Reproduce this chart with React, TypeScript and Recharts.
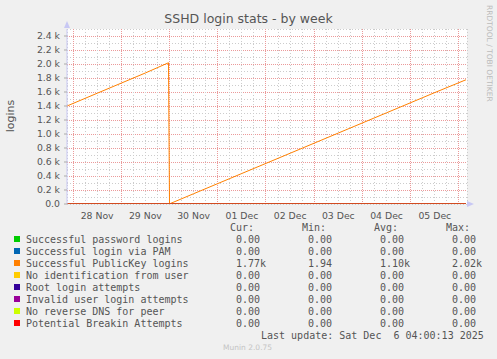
import React from "react"
import { LineChart, Line, XAxis, YAxis, CartesianGrid } from "recharts"

// hours relative to 28 Nov 00:00
const dayLabels = ["28 Nov", "29 Nov", "30 Nov", "01 Dec", "02 Dec", "03 Dec", "04 Dec", "05 Dec"]
const dayLabelHours = [12, 36, 60, 84, 108, 132, 156, 180]
const yTicks = [0, 200, 400, 600, 800, 1000, 1200, 1400, 1600, 1800, 2000, 2200, 2400]

const pubkeyData = [
  { t: -3, v: 1400 },
  { t: 12, v: 1582 },
  { t: 24, v: 1727 },
  { t: 36, v: 1872 },
  { t: 47.5, v: 2018 },
  { t: 48, v: 2 },
  { t: 60, v: 147 },
  { t: 84, v: 436 },
  { t: 108, v: 725 },
  { t: 132, v: 1014 },
  { t: 156, v: 1303 },
  { t: 180, v: 1592 },
  { t: 195.5, v: 1775 },
]
const zeroData = [
  { t: -3, v: 0 },
  { t: 195.5, v: 0 },
]

const seriesNames = [
  "Successful password logins",
  "Successful login via PAM",
  "Successful PublicKey logins",
  "No identification from user",
  "Root login attempts",
  "Invalid user login attempts",
  "No reverse DNS for peer",
  "Potential Breakin Attempts",
]
const seriesColors = ["#00CC00", "#0066B3", "#FF8000", "#FFCC00", "#330099", "#990099", "#CCFF00", "#FF0000"]
const curValues = ["0.00", "0.00", "1.77k", "0.00", "0.00", "0.00", "0.00", "0.00"]
const minValues = ["0.00", "0.00", "1.94", "0.00", "0.00", "0.00", "0.00", "0.00"]
const avgValues = ["0.00", "0.00", "1.10k", "0.00", "0.00", "0.00", "0.00", "0.00"]
const maxValues = ["0.00", "0.00", "2.02k", "0.00", "0.00", "0.00", "0.00", "0.00"]

// grid every 100 logins / every 6 hours, every 2nd / 4th one is a major line
const gridYTicks = Array.from({ length: 25 }, (_, i) => (i + 1) * 100)
const gridXTicks = Array.from({ length: 33 }, (_, i) => i * 6)

const fmtY = (v: number) => (v === 0 ? "0.0" : `${(v / 1000).toFixed(1)} k`)
const fmtX = (v: number) => dayLabels[dayLabelHours.indexOf(v)] ?? ""

const MINOR = "#cccccc"
const MAJOR = "#eb9a9a"

const gridLine = (isMajor: (i: number) => boolean) => (props: any) => {
  const major = isMajor(props.index)
  return (
    <line
      key={props.key}
      x1={props.x1}
      y1={props.y1}
      x2={props.x2}
      y2={props.y2}
      stroke={major ? MAJOR : MINOR}
      strokeDasharray={major ? "1 1" : "1 2"}
      shapeRendering="crispEdges"
    />
  )
}

const mono: React.CSSProperties = {
  position: "absolute",
  fontFamily: "'DejaVu Sans Mono', monospace",
  fontSize: 10,
  color: "#555",
  whiteSpace: "pre",
  lineHeight: "12px",
}

export default function App() {
  const tickStyle = { fontSize: 9.3, fill: "#555", fontFamily: "'DejaVu Sans', sans-serif" }
  return (
    <div style={{ position: "absolute", left: 0, top: 0, width: 497, height: 359, background: "#f0f0f0", fontFamily: "'DejaVu Sans', sans-serif", overflow: "hidden" }}>
      <div style={{ position: "absolute", left: 67, top: 29, width: 400, height: 175, background: "#ffffff" }} />
      <div style={{ position: "absolute", left: 0, top: 11, width: 497, textAlign: "center", fontSize: 12.5, color: "#555" }}>
        SSHD login stats - by week
      </div>
      <div style={{ position: "absolute", left: 10, top: 116, transform: "translate(-50%, -50%) rotate(-90deg)", fontSize: 11, color: "#555" }}>
        logins
      </div>
      <div style={{ position: "absolute", left: 490, top: 5, transformOrigin: "0 0", transform: "translate(4px, 0) rotate(90deg)", fontSize: 7.5, color: "#bbb", whiteSpace: "nowrap" }}>
        RRDTOOL / TOBI OETIKER
      </div>
      <LineChart width={497} height={359} margin={{ top: 29, right: 30, bottom: 135, left: 7 }} style={{ position: "absolute", left: 0, top: 0 }}>
        <XAxis
          dataKey="t"
          type="number"
          domain={[-3, 196]}
          ticks={dayLabelHours}
          tickFormatter={fmtX}
          axisLine={false}
          tickLine={false}
          tickMargin={2}
          height={20}
          interval={0}
          tick={tickStyle}
          allowDataOverflow
        />
        <XAxis xAxisId="grid" dataKey="t" type="number" domain={[-3, 196]} ticks={gridXTicks} interval={0} hide allowDataOverflow />
        <YAxis
          type="number"
          domain={[0, 2500]}
          ticks={yTicks}
          tickFormatter={fmtY}
          width={60}
          interval={0}
          axisLine={{ stroke: "#c8c8f4" }}
          tickLine={{ stroke: "#aaa" }}
          tickSize={3}
          tickMargin={4}
          tick={tickStyle}
          allowDataOverflow
        />
        <YAxis yAxisId="grid" type="number" domain={[0, 2500]} ticks={gridYTicks} interval={0} hide allowDataOverflow />
        <CartesianGrid
          xAxisId="grid"
          yAxisId="grid"
          stroke={MINOR}
          horizontal={gridLine((i) => i % 2 === 1 && i < 24)}
          vertical={gridLine((i) => i % 4 === 0)}
        />
        {seriesNames.map((name, i) => (
          <Line
            key={name}
            data={i === 2 ? pubkeyData : zeroData}
            dataKey="v"
            type="linear"
            stroke={seriesColors[i]}
            strokeWidth={1}
            dot={false}
            isAnimationActive={false}
          />
        ))}
      </LineChart>
      <svg width={497} height={359} style={{ position: "absolute", left: 0, top: 0, pointerEvents: "none" }}>
        <polygon points="64,28 70,28 67,21" fill="#c8c8f4" />
        <polygon points="467,201 467,207 474,204" fill="#c8c8f4" />
      </svg>
      <div style={{ ...mono, left: 230, top: 222 }}>Cur:</div>
      <div style={{ ...mono, left: 302, top: 222 }}>Min:</div>
      <div style={{ ...mono, left: 374, top: 222 }}>Avg:</div>
      <div style={{ ...mono, left: 446, top: 222 }}>Max:</div>
      {seriesNames.map((name, i) => (
        <React.Fragment key={name}>
          <div style={{ position: "absolute", left: 14, top: 236 + i * 12, width: 6, height: 6, background: seriesColors[i] }} />
          <div style={{ ...mono, left: 26, top: 234 + i * 12 }}>{name}</div>
          <div style={{ ...mono, left: 236, top: 234 + i * 12 }}>{curValues[i]}</div>
          <div style={{ ...mono, left: 308, top: 234 + i * 12 }}>{minValues[i]}</div>
          <div style={{ ...mono, left: 380, top: 234 + i * 12 }}>{avgValues[i]}</div>
          <div style={{ ...mono, left: 452, top: 234 + i * 12 }}>{maxValues[i]}</div>
        </React.Fragment>
      ))}
      <div style={{ ...mono, left: 261, top: 330 }}>Last update: Sat Dec  6 04:00:13 2025</div>
      <div style={{ position: "absolute", left: 223, top: 343, fontSize: 7.5, color: "#c4c4c4", whiteSpace: "nowrap" }}>Munin 2.0.75</div>
    </div>
  )
}
